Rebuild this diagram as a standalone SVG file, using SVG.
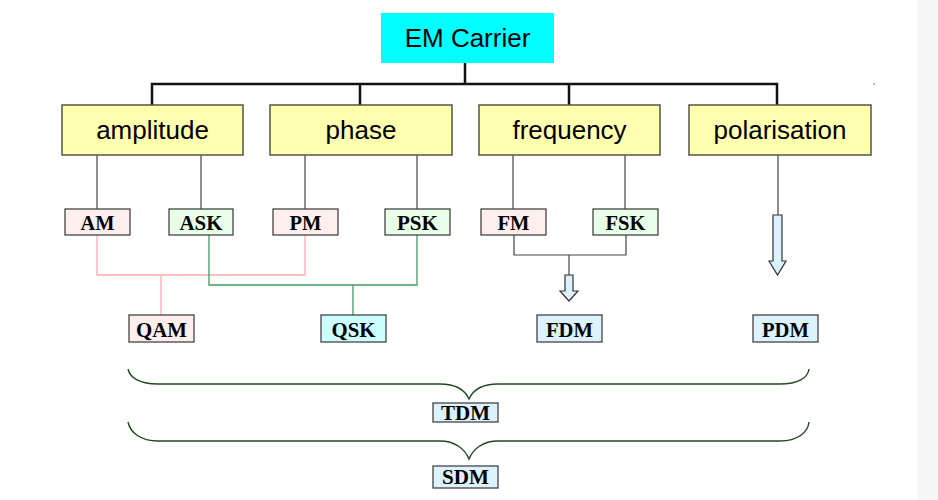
<svg xmlns="http://www.w3.org/2000/svg" width="938" height="500" viewBox="0 0 938 500">
<style>
.big{font-family:"Liberation Sans",Arial,sans-serif;font-size:26px;fill:#000;text-anchor:middle}
.sm{font-family:"Liberation Serif","Times New Roman",serif;font-size:22px;font-weight:bold;fill:#000;text-anchor:middle}
.ybox{fill:#FFFFB0;stroke:#555544;stroke-width:1.5}
.pink{fill:#FFEEEE;stroke:#444;stroke-width:1.3}
.green{fill:#E8FFE8;stroke:#444;stroke-width:1.3}
.cyan{fill:#CCFFFF;stroke:#444;stroke-width:1.3}
.blue{fill:#DDF2FF;stroke:#444;stroke-width:1.3}
.bus{fill:none;stroke:#111;stroke-width:2.5}
.thin{fill:none;stroke:#444;stroke-width:1.2}
.pl{fill:none;stroke:#FFAAAA;stroke-width:1.3}
.gl{fill:none;stroke:#449966;stroke-width:1.3}
.brace{fill:none;stroke:#1F4A1F;stroke-width:1.4}
.arr{fill:#DDF2FF;stroke:#333;stroke-width:1.2}
</style>
<rect x="0" y="0" width="938" height="500" fill="#fff"/>
<rect x="917" y="0" width="21" height="500" fill="#F6F6F6"/>
<rect x="873" y="83" width="2" height="2" fill="#bbb"/>

<g id="connectors">
  <path class="bus" d="M465 63V84M152 105V84H777V105M360 84V105M569 84V105"/>
  <path class="thin" d="M97 155V209M201 155V209M305 155V209M417 155V209M513 155V209M625 155V209"/>
  <path class="pl" d="M97 235V275H305V235M161 275V315"/>
  <path class="gl" d="M209 235V285H417V235M353 285V315"/>
  <path class="thin" d="M514 235V255H626V235M569 255V275"/>
  <path class="thin" d="M778 155V215"/>
  <path class="arr" d="M565 275H573V291H578L569 301L560 291H565Z"/>
  <path class="arr" d="M773 215H782V261H786L777.5 275L769 261H773Z"/>
  <path class="brace" d="M128 369C130 378 140 384 158 384H440C455 384 465 390 469 399C473 390 483 384 498 384H780C798 384 808 378 809 369"/>
  <path class="brace" d="M128 422C130 432 140 441 158 441H440C455 441 465 449 469 459C473 449 483 441 498 441H780C798 441 808 432 809 422"/>
</g>

<g id="em-carrier"><rect x="381" y="13" width="173" height="50" fill="#00FFFF"/><text class="big" x="467.5" y="47">EM Carrier</text></g>

<g id="amplitude"><rect class="ybox" x="62" y="105" width="181" height="50"/><text class="big" x="152.5" y="139">amplitude</text></g>
<g id="phase"><rect class="ybox" x="270" y="105" width="182" height="50"/><text class="big" x="361" y="139">phase</text></g>
<g id="frequency"><rect class="ybox" x="479" y="105" width="181" height="50"/><text class="big" x="569.5" y="139">frequency</text></g>
<g id="polarisation"><rect class="ybox" x="689" y="105" width="182" height="50"/><text class="big" x="780" y="139">polarisation</text></g>

<g id="am"><rect class="pink" x="65" y="209" width="65" height="26"/><text class="sm" x="97.5" y="230" textLength="34" lengthAdjust="spacingAndGlyphs">AM</text></g>
<g id="ask"><rect class="green" x="169" y="209" width="64" height="26"/><text class="sm" x="201" y="230" textLength="43" lengthAdjust="spacingAndGlyphs">ASK</text></g>
<g id="pm"><rect class="pink" x="273" y="209" width="65" height="26"/><text class="sm" x="305.5" y="230" textLength="32" lengthAdjust="spacingAndGlyphs">PM</text></g>
<g id="psk"><rect class="green" x="385" y="209" width="65" height="26"/><text class="sm" x="417.5" y="230" textLength="41" lengthAdjust="spacingAndGlyphs">PSK</text></g>
<g id="fm"><rect class="pink" x="481" y="209" width="65" height="26"/><text class="sm" x="513.5" y="230" textLength="32" lengthAdjust="spacingAndGlyphs">FM</text></g>
<g id="fsk"><rect class="green" x="593" y="209" width="65" height="26"/><text class="sm" x="625.5" y="230" textLength="40" lengthAdjust="spacingAndGlyphs">FSK</text></g>

<g id="qam"><rect class="pink" x="129" y="315" width="65" height="27"/><text class="sm" x="161.5" y="337" textLength="51" lengthAdjust="spacingAndGlyphs">QAM</text></g>
<g id="qsk"><rect class="cyan" x="321" y="315" width="65" height="27"/><text class="sm" x="353.5" y="337" textLength="44" lengthAdjust="spacingAndGlyphs">QSK</text></g>
<g id="fdm"><rect class="blue" x="537" y="315" width="65" height="27"/><text class="sm" x="569.5" y="337" textLength="47" lengthAdjust="spacingAndGlyphs">FDM</text></g>
<g id="pdm"><rect class="blue" x="753" y="315" width="65" height="27"/><text class="sm" x="785.5" y="337" textLength="47" lengthAdjust="spacingAndGlyphs">PDM</text></g>

<g id="tdm"><rect class="blue" x="433" y="403" width="65" height="19"/><text class="sm" x="465.5" y="420" textLength="49" lengthAdjust="spacingAndGlyphs">TDM</text></g>
<g id="sdm"><rect class="blue" x="433" y="466" width="65" height="22"/><text class="sm" x="465.5" y="484" textLength="47" lengthAdjust="spacingAndGlyphs">SDM</text></g>
</svg>
